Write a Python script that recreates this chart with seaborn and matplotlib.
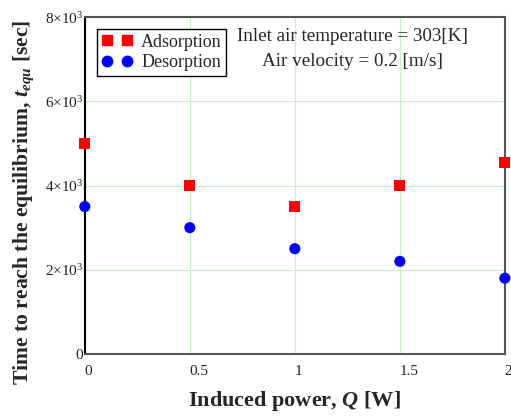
import matplotlib
matplotlib.use("Agg")
import matplotlib.pyplot as plt
from matplotlib.lines import Line2D
from matplotlib.ticker import FixedLocator, FixedFormatter
import seaborn as sns
import pandas as pd

power = [0.0, 0.5, 1.0, 1.5, 2.0]
adsorption = [5000, 4000, 3500, 4000, 4550]
desorption = [3500, 3000, 2500, 2200, 1800]
series_names = ["Adsorption", "Desorption"]
y_ticks = [0, 2000, 4000, 6000, 8000]
y_tick_labels = ["0", r"2$\times$10$^{3}$", r"4$\times$10$^{3}$", r"6$\times$10$^{3}$", r"8$\times$10$^{3}$"]
x_ticks = [0, 0.5, 1, 1.5, 2]
x_tick_labels = ["0", "0.5", "1", "1.5", "2"]

df = pd.DataFrame({
    "Q": power * 2,
    "t": adsorption + desorption,
    "series": [series_names[0]] * len(power) + [series_names[1]] * len(power),
})

sns.set_style("white")
plt.rcParams["font.family"] = ["Liberation Serif", "DejaVu Serif"]
plt.rcParams["mathtext.fontset"] = "custom"
plt.rcParams["mathtext.rm"] = "Liberation Serif"
plt.rcParams["mathtext.it"] = "Liberation Serif:italic"
plt.rcParams["mathtext.bf"] = "Liberation Serif:bold"
plt.rcParams["mathtext.bfit"] = "Liberation Serif:bold:italic"

fig = plt.figure(figsize=(5.11, 4.16), dpi=100)
ax = fig.add_axes([0.166, 0.149, 0.822, 0.810])

colors = {"Adsorption": "#ff0000", "Desorption": "#0000ff"}
markers = {"Adsorption": "s", "Desorption": "o"}
sns.scatterplot(data=df, x="Q", y="t", hue="series", style="series",
                palette=colors, markers=markers, s=64, linewidth=0,
                legend=False, ax=ax, clip_on=False, zorder=5)

ax.set_xlim(0, 2)
ax.set_ylim(0, 8000)
ax.xaxis.set_major_locator(FixedLocator(x_ticks))
ax.xaxis.set_major_formatter(FixedFormatter(x_tick_labels))
ax.yaxis.set_major_locator(FixedLocator(y_ticks))
ax.yaxis.set_major_formatter(FixedFormatter(y_tick_labels))
ax.tick_params(axis="both", length=0, labelsize=11, colors="#222222")
ax.tick_params(axis="x", pad=8)
ax.tick_params(axis="y", pad=1)
for lbl in ax.get_xticklabels():
    lbl.set_horizontalalignment("left")

ax.grid(True, color="#c8f0c8", linewidth=0.9)
ax.set_axisbelow(True)
for side in ["top", "right", "bottom"]:
    ax.spines[side].set_color("#555555")
    ax.spines[side].set_linewidth(1.5)
ax.spines["left"].set_color("#000000")
ax.spines["left"].set_linewidth(1.5)

ax.set_xlabel(r"Induced power, $\mathbfit{Q}$ [W]", fontsize=16, fontweight="bold", labelpad=8)
ax.set_ylabel(r"Time to reach the equilibrium, $\mathbfit{t}_{\mathbfit{equ}}$ [sec]",
              fontsize=15.6, fontweight="bold")
ax.yaxis.set_label_coords(-0.116, 0.45)

handles = [
    Line2D([], [], linestyle="none", marker="s", color=colors["Adsorption"], markersize=7.5),
    Line2D([], [], linestyle="none", marker="o", color=colors["Desorption"], markersize=7.5),
]
leg = ax.legend(handles, series_names, loc="upper left", bbox_to_anchor=(0.02, 0.975),
                numpoints=2, fontsize=13, frameon=True, fancybox=False,
                edgecolor="black", framealpha=1, borderpad=0.25, labelspacing=0.2,
                handlelength=1.7, handletextpad=0.5, borderaxespad=0.2)
leg.get_frame().set_linewidth(1.0)

ax.text(0.636, 0.968, "Inlet air temperature = 303[K]\nAir velocity = 0.2 [m/s]",
        transform=ax.transAxes, ha="center", va="top", fontsize=13.8,
        multialignment="center", linespacing=1.6)

fig.savefig("out.png", dpi=100)
